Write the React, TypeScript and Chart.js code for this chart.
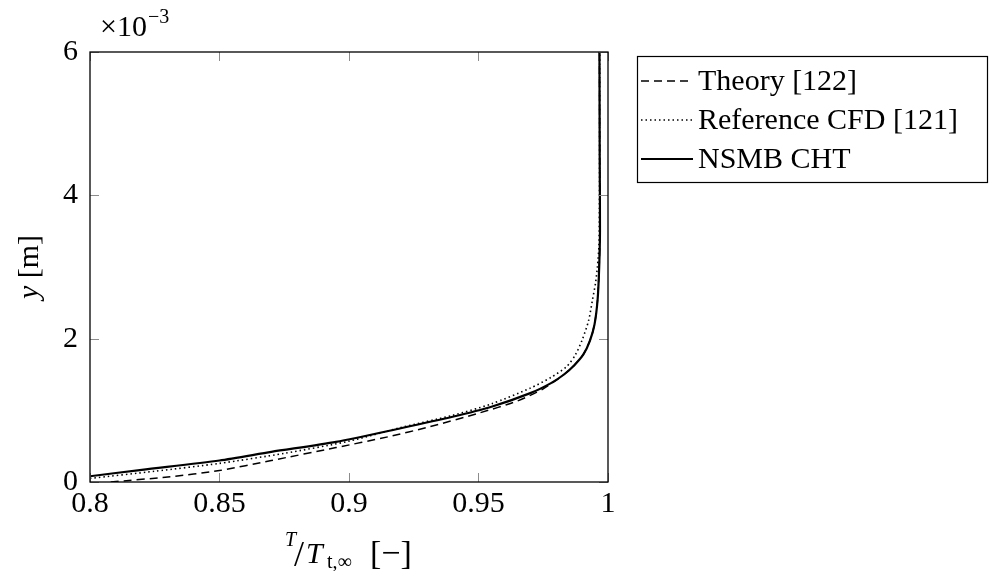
import React, { useEffect, useRef } from "react";
import { Chart, registerables } from "chart.js";

Chart.register(...registerables);

// T / T_t,inf  and y (x 1e-3 m)
const theoryT = [0.808, 0.83, 0.85, 0.87, 0.895, 0.915, 0.931, 0.95, 0.965, 0.975, 0.983, 0.987, 0.9905, 0.993, 0.9948, 0.996, 0.9966, 0.9969, 0.9968, 0.9967];
const theoryY = [0.0, 0.07, 0.16, 0.3, 0.48, 0.63, 0.77, 0.96, 1.13, 1.3, 1.5, 1.63, 1.78, 1.97, 2.2, 2.55, 3.0, 3.5, 4.5, 6.0];

const refT = [0.8, 0.825, 0.85, 0.875, 0.9, 0.92, 0.94, 0.955, 0.97, 0.978, 0.984, 0.9875, 0.99, 0.9925, 0.994, 0.9952, 0.9959, 0.9965, 0.9967, 0.9968];
const refY = [0.05, 0.15, 0.26, 0.4, 0.57, 0.76, 0.93, 1.09, 1.31, 1.46, 1.61, 1.78, 1.98, 2.25, 2.54, 2.78, 3.0, 3.3, 4.0, 6.0];

const nsmbT = [0.8, 0.82, 0.85, 0.87, 0.895, 0.92, 0.94, 0.955, 0.97, 0.978, 0.983, 0.987, 0.9905, 0.993, 0.9948, 0.996, 0.9966, 0.9969, 0.9968, 0.9967];
const nsmbY = [0.08, 0.17, 0.3, 0.42, 0.56, 0.75, 0.91, 1.05, 1.24, 1.38, 1.5, 1.63, 1.78, 1.97, 2.2, 2.55, 3.0, 3.5, 4.5, 6.0];

const xTicks = [0.8, 0.85, 0.9, 0.95, 1];
const yTicks = [0, 2, 4, 6];

const seriesNames = ["Theory [122]", "Reference CFD [121]", "NSMB CHT"];

const FONT = "'Liberation Serif', 'DejaVu Serif', serif";
const FS = 30;

const zip = (xs: number[], ys: number[]) => xs.map((x, i) => ({ x, y: ys[i] }));

const dashStyles = [
  { dash: [8, 5], width: 1.5 },
  { dash: [1.5, 3], width: 1.6 },
  { dash: [], width: 2.2 },
];

const decorPlugin = {
  id: "decor",
  afterDraw(chart: any) {
    const ctx = chart.ctx as CanvasRenderingContext2D;
    const a = chart.chartArea;
    const xs = chart.scales.x;
    const ys = chart.scales.y;
    ctx.save();
    // ticks (inward, both sides)
    ctx.strokeStyle = "#8c8c8c";
    ctx.lineWidth = 1;
    const tl = 9;
    xTicks.forEach((v) => {
      const px = Math.round(xs.getPixelForValue(v)) + 0.5;
      ctx.beginPath();
      ctx.moveTo(px, a.bottom);
      ctx.lineTo(px, a.bottom - tl);
      ctx.moveTo(px, a.top);
      ctx.lineTo(px, a.top + tl);
      ctx.stroke();
    });
    yTicks.forEach((v) => {
      const py = Math.round(ys.getPixelForValue(v)) + 0.5;
      ctx.beginPath();
      ctx.moveTo(a.left, py);
      ctx.lineTo(a.left + tl, py);
      ctx.moveTo(a.right, py);
      ctx.lineTo(a.right - tl, py);
      ctx.stroke();
    });
    // frame
    ctx.strokeStyle = "#000";
    ctx.lineWidth = 1.3;
    ctx.strokeRect(a.left, a.top, a.right - a.left, a.bottom - a.top);

    ctx.fillStyle = "#000";
    ctx.textBaseline = "alphabetic";
    ctx.textAlign = "left";

    // x10^-3
    ctx.font = `${FS}px ${FONT}`;
    ctx.fillText("\u00d710", 100, 36);
    const w10 = ctx.measureText("\u00d710").width;
    ctx.font = `20px ${FONT}`;
    ctx.fillText("\u22123", 100 + w10 + 1, 23);

    // x-axis title: T/T_{t,inf} [-]
    const base = 563;
    ctx.font = `italic 20px ${FONT}`;
    ctx.fillText("T", 285, 546);
    ctx.font = `36px ${FONT}`;
    ctx.fillText("/", 294, base + 3);
    ctx.font = `italic ${FS}px ${FONT}`;
    ctx.fillText("T", 306, base);
    ctx.font = `20px ${FONT}`;
    ctx.fillText("t,\u221e", 327, base + 5);
    ctx.font = `34px ${FONT}`;
    ctx.fillText("[\u2212]", 370, base + 1);

    // y-axis title
    ctx.save();
    ctx.translate(38, 267);
    ctx.rotate(-Math.PI / 2);
    ctx.font = `italic ${FS}px ${FONT}`;
    const wy = ctx.measureText("y").width;
    ctx.font = `${FS}px ${FONT}`;
    const wm = ctx.measureText(" [m]").width;
    const sx = -(wy + wm) / 2;
    ctx.font = `italic ${FS}px ${FONT}`;
    ctx.fillText("y", sx, 0);
    ctx.font = `${FS}px ${FONT}`;
    ctx.fillText(" [m]", sx + wy, 0);
    ctx.restore();

    // legend
    ctx.fillStyle = "#fff";
    ctx.fillRect(637.5, 56.5, 350, 126);
    ctx.strokeStyle = "#000";
    ctx.lineWidth = 1.2;
    ctx.strokeRect(637.5, 56.5, 350, 126);
    const rows = [81, 120, 159];
    seriesNames.forEach((name, i) => {
      const ry = rows[i];
      ctx.save();
      ctx.strokeStyle = "#000";
      ctx.lineWidth = dashStyles[i].width;
      ctx.setLineDash(dashStyles[i].dash);
      ctx.beginPath();
      ctx.moveTo(641, ry);
      ctx.lineTo(693, ry);
      ctx.stroke();
      ctx.restore();
      ctx.fillStyle = "#000";
      ctx.font = `${FS}px ${FONT}`;
      ctx.textBaseline = "middle";
      ctx.fillText(name, 698, ry + 1);
    });
    ctx.restore();
  },
};

export default function App() {
  const ref = useRef<HTMLCanvasElement>(null);
  useEffect(() => {
    document.body.style.margin = "0";
    const canvas = ref.current!;
    const datasets = [
      zip(theoryT, theoryY),
      zip(refT, refY),
      zip(nsmbT, nsmbY),
    ].map((d, i) => ({
      label: seriesNames[i],
      data: d,
      showLine: true,
      borderColor: "#000",
      backgroundColor: "#000",
      borderWidth: dashStyles[i].width,
      borderDash: dashStyles[i].dash,
      pointRadius: 0,
      tension: 0.25,
      fill: false,
    }));
    const chart = new Chart(canvas, {
      type: "scatter",
      data: { datasets },
      options: {
        responsive: false,
        animation: false,
        devicePixelRatio: 1,
        layout: { padding: { left: 0, top: 52, right: 381, bottom: 0 } },
        plugins: { legend: { display: false }, tooltip: { enabled: false } },
        scales: {
          x: {
            type: "linear",
            min: 0.8,
            max: 1,
            afterFit: (s: any) => {
              s.height = 89;
            },
            afterBuildTicks: (s: any) => {
              s.ticks = xTicks.map((v) => ({ value: v }));
            },
            grid: { display: false, drawTicks: false },
            border: { display: false },
            ticks: {
              font: { family: FONT, size: FS },
              color: "#000",
              padding: 4,
              maxRotation: 0,
              autoSkip: false,
              callback: (v: any) => String(Number(Number(v).toFixed(2))),
            },
          },
          y: {
            type: "linear",
            min: 0,
            max: 6,
            afterFit: (s: any) => {
              s.width = 90;
            },
            afterBuildTicks: (s: any) => {
              s.ticks = yTicks.map((v) => ({ value: v }));
            },
            grid: { display: false, drawTicks: false },
            border: { display: false },
            ticks: {
              font: { family: FONT, size: FS },
              color: "#000",
              padding: 12,
              autoSkip: false,
              callback: (v: any) => String(v),
            },
          },
        },
      },
      plugins: [decorPlugin],
    });
    return () => chart.destroy();
  }, []);
  return (
    <div style={{ position: "absolute", left: 0, top: 0, width: 989, height: 571, background: "#fff" }}>
      <canvas ref={ref} width={989} height={571} style={{ width: 989, height: 571 }} />
    </div>
  );
}
